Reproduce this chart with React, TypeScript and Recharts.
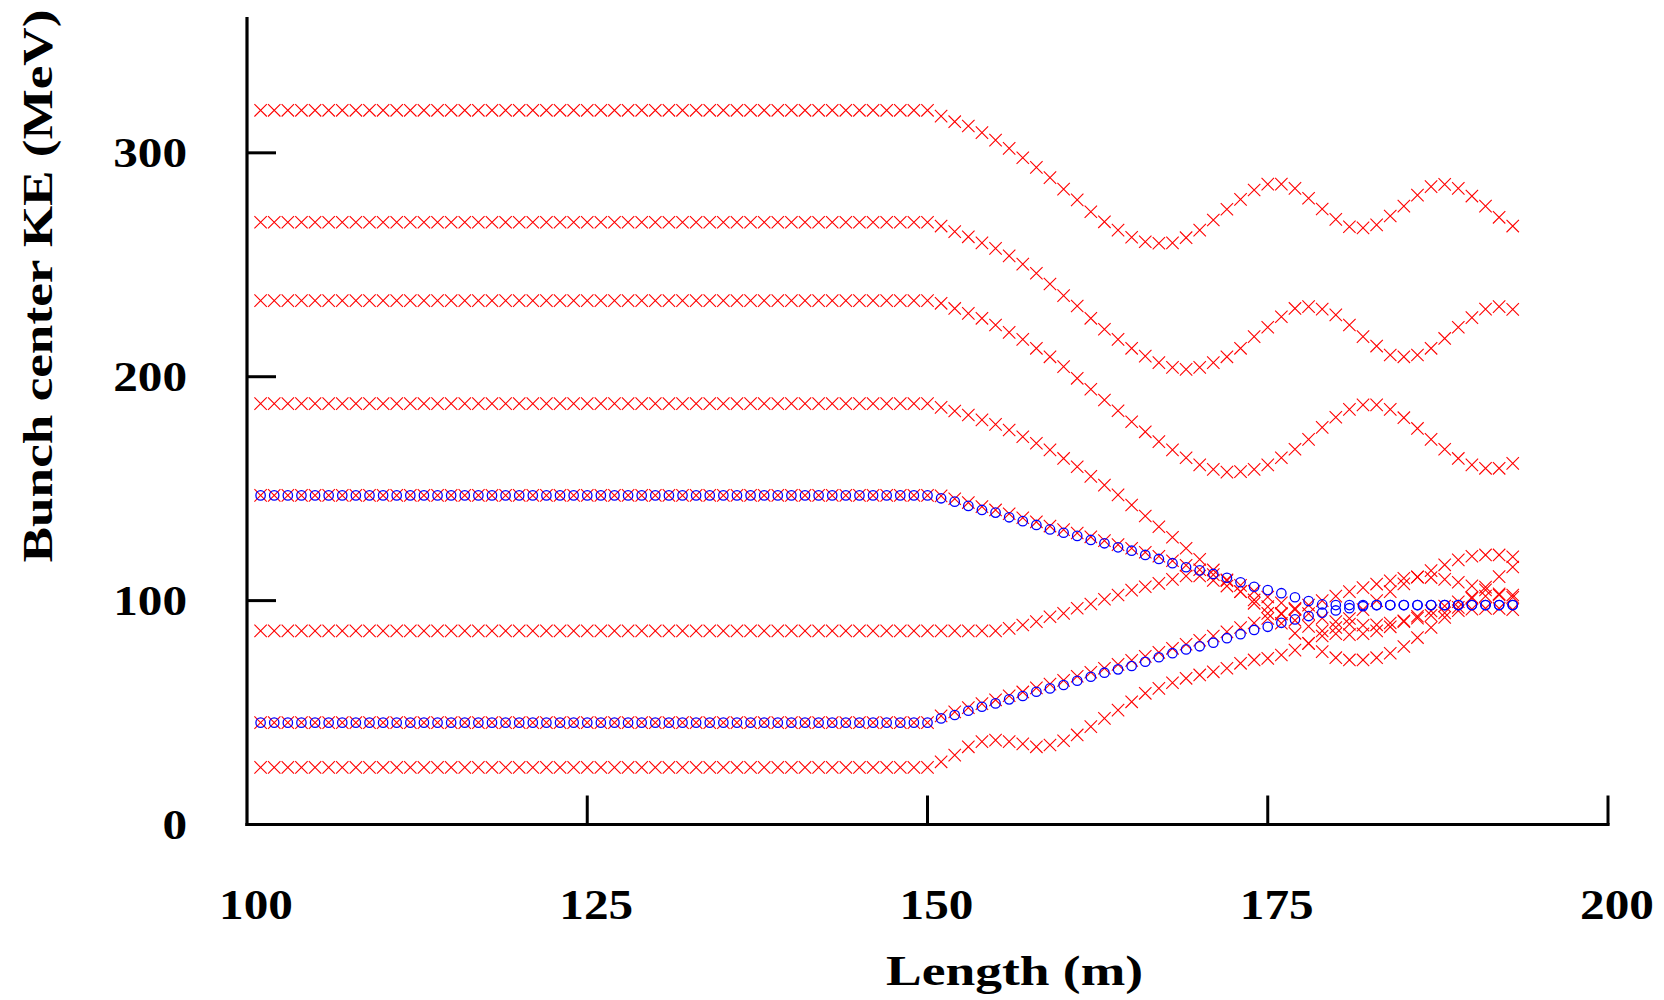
import React from 'react';
import { ScatterChart, Scatter, XAxis, YAxis } from 'recharts';

// Sample positions along the channel (m), one every metre
const lengths: number[] = Array.from({ length: 93 }, (_, i) => 101 + i);
const DRIFT_END = 150; // KE is constant up to here, tails start at 151 m

const xTicks = [100, 125, 150, 175, 200];
const yTicks = [0, 100, 200, 300];

// Bunch KE (MeV) in the drift section
const bunchFlat = [319, 269, 234, 188, 147, 86.5, 45.5, 25.5];
const refFlat = [147, 45.5];

// Bunch KE (MeV) from 151 m to 193 m
const bunch1Tail = [
  316.4, 313.9, 312, 309, 305.7, 302, 297.8, 293.5, 288.9, 283.8,
  279, 273.7, 269.2, 265.5, 262.3, 260.3, 259.6, 259.8, 262.1, 265.5,
  270, 274.8, 279.2, 283.4, 286, 286, 284.1, 279.7, 274.9, 270.3,
  267, 266.5, 267.8, 271.8, 276.2, 281.1, 284.9, 285.9, 284.1, 280.7,
  276.2, 271.2, 267.3,
];
const bunch2Tail = [
  267.3, 264.8, 262.5, 259.8, 257.3, 254, 250.3, 246.2, 241.4, 236.2,
  231.6, 226.1, 221.2, 216.7, 212.7, 209.2, 206.3, 204.2, 203.3, 204.2,
  206.3, 208.9, 212.7, 217.9, 222.1, 226.8, 230.5, 231.3, 230.2, 227.6,
  223.1, 217.9, 213.7, 209.7, 208.9, 209.7, 212.7, 217.1, 222.1, 226.4,
  230.2, 231.3, 230.1,
];
const bunch3Tail = [
  232.8, 230.5, 228.3, 226.1, 223.1, 219.8, 216.7, 212.7, 208.9, 204.5,
  199.3, 194.4, 189.6, 184.8, 179.9, 175.4, 171, 167.3, 163.8, 160.6,
  158.6, 157.4, 157.6, 158.6, 160.6, 163.8, 167.6, 172, 177.4, 181.9,
  185.4, 187.4, 187.4, 185.4, 181.7, 176.9, 172, 167.6, 163.5, 160.6,
  159.1, 159.1, 161.3,
];
const bunch4Tail = [
  186.3, 184.7, 182.9, 180.7, 178.7, 176.2, 173.2, 170.3, 167.3, 163.5,
  159.8, 155.5, 151.6, 147.2, 142.7, 137.8, 133, 128.3, 123.4, 118.4,
  113.7, 108.9, 104, 98.8, 94.3, 89.9, 85.4, 80.9, 77.2, 74.5,
  73.5, 73.5, 74.5, 76.5, 79.5, 83.5, 88, 92.5, 97, 101.5,
  106, 110.7, 115,
];
const bunch5Tail = [
  146.8, 145.5, 143.8, 142, 140.5, 138.8, 137, 135.2, 133.3, 131.7,
  130.2, 128.5, 126.8, 125, 123.4, 121.6, 119.8, 117.8, 115.8, 113.8,
  111.6, 109.3, 106.8, 104.2, 101.6, 99, 96.5, 94.2, 92.2, 90.6,
  89.5, 89, 89.2, 90, 91, 92.2, 93.4, 94.5, 95.5, 96.2,
  96.5, 96.5, 96,
];
const bunch6Tail = [
  86.5, 86.5, 86.5, 86.5, 86.5, 87.6, 89.1, 90.6, 92.8, 94.3,
  96.6, 98.5, 100.6, 102.5, 104.7, 106.2, 107.7, 109.5, 111, 111,
  109, 106.5, 104, 100.3, 97.3, 94.3, 91.2, 88.5, 86.5, 85.2,
  84.8, 85.2, 86.5, 88.3, 90.6, 93, 95.4, 97.6, 99.5, 101,
  102, 102.5, 102.5,
];
const bunch7Tail = [
  48.5, 50.3, 52.2, 54, 55.7, 57.5, 59.2, 61, 62.7, 64.4,
  66.2, 68, 69.8, 71.5, 73.3, 75.1, 76.9, 78.7, 80.5, 82.3,
  84.2, 86.1, 88, 90, 92, 94, 96, 98, 100, 102,
  104, 105.8, 107.4, 108.8, 110, 110.5, 110.3, 109.5, 108.2, 106.6,
  104.8, 103, 101.5,
];
const bunch8Tail = [
  28, 31, 34.7, 37, 37.7, 37, 36, 34.7, 35.5, 37.4,
  40, 43.7, 47.4, 51.1, 54.8, 58.6, 60.8, 63.3, 65.3, 66.8,
  68.2, 69.8, 72, 73.5, 74.2, 75.7, 77.9, 80.9, 84.2, 88,
  92, 96, 100, 104, 107.5, 110.6, 113.4, 116, 118.2, 119.8,
  120.4, 120.4, 119.6,
];

// Reference particles
const ref1Tail = [
  145.7, 144.2, 142.3, 140.5, 139.3, 137.2, 135.5, 133.8, 131.8, 130.3,
  128.9, 127.1, 125.6, 123.8, 122.3, 120.4, 118.6, 116.7, 114.9, 113.5,
  111.9, 110.2, 108.2, 106.2, 104.7, 103.3, 101.5, 99.8, 98.3, 98,
  98, 98, 98, 98, 98, 98, 98, 98, 98, 98,
  98, 98, 98,
];
const ref2Tail = [
  47.4, 48.9, 50.8, 52.6, 54.1, 55.9, 57.4, 59.3, 60.8, 62.3,
  64.2, 66, 67.8, 69.3, 70.8, 72.7, 74.7, 76.5, 78.2, 79.6,
  81.2, 83.2, 85, 86.9, 88.3, 90.1, 91.6, 93.1, 94.6, 95.6,
  96.6, 97.5, 98, 98, 98, 98, 98, 98, 98, 98,
  98, 98, 98,
];

const bunchTails = [bunch1Tail, bunch2Tail, bunch3Tail, bunch4Tail, bunch5Tail, bunch6Tail, bunch7Tail, bunch8Tail];
const refTails = [ref1Tail, ref2Tail];

const toPoints = (flat: number, tail: number[]) =>
  lengths.map((x) => ({ x, y: x <= DRIFT_END ? flat : tail[x - DRIFT_END - 1] }));

const bunches = bunchFlat.map((f, i) => toPoints(f, bunchTails[i]));
const refs = refFlat.map((f, i) => toPoints(f, refTails[i]));

const FONT = "'Liberation Serif', 'Times New Roman', serif";
const DIGIT_W = 24.6;

const Cross = (props: any) => {
  const { cx, cy } = props;
  const h = 6.2;
  return (
    <path
      d={`M${cx - h},${cy - h}L${cx + h},${cy + h}M${cx - h},${cy + h}L${cx + h},${cy - h}`}
      stroke="#ff0000"
      strokeWidth={1.1}
      fill="none"
    />
  );
};

const Ring = (props: any) => {
  const { cx, cy } = props;
  return <circle cx={cx} cy={cy} r={4.7} stroke="#0000ff" strokeWidth={1.3} fill="none" />;
};

// inward ticks drawn together with their labels
const XTick = (props: any) => {
  const { x, y, payload } = props;
  const s = String(payload.value);
  return (
    <g>
      {payload.value !== 100 && <line x1={x} y1={y} x2={x} y2={y - 29} stroke="#000" strokeWidth={3} />}
      <text
        x={x + 9}
        y={y + 94}
        textAnchor="middle"
        fontFamily={FONT}
        fontWeight={700}
        fontSize={42}
        fill="#000"
        textLength={s.length * DIGIT_W}
        lengthAdjust="spacingAndGlyphs"
      >
        {s}
      </text>
    </g>
  );
};

const YTick = (props: any) => {
  const { x, y, payload } = props;
  const s = String(payload.value);
  return (
    <g>
      {payload.value !== 0 && <line x1={x} y1={y} x2={x + 29} y2={y} stroke="#000" strokeWidth={3} />}
      <text
        x={x - 60}
        y={y + 14}
        textAnchor="end"
        fontFamily={FONT}
        fontWeight={700}
        fontSize={42}
        fill="#000"
        textLength={s.length * DIGIT_W}
        lengthAdjust="spacingAndGlyphs"
      >
        {s}
      </text>
    </g>
  );
};

const XTitle = (props: any) => {
  const vb = props.viewBox;
  return (
    <text
      x={vb.x + 767.5}
      y={vb.y + 160.5}
      textAnchor="middle"
      fontFamily={FONT}
      fontWeight={700}
      fontSize={43}
      fill="#000"
      textLength={257}
      lengthAdjust="spacingAndGlyphs"
    >
      Length (m)
    </text>
  );
};

const YTitle = (props: any) => {
  const vb = props.viewBox;
  return (
    <text
      transform={`translate(${vb.x + vb.width - 195},${vb.y + 267.5}) rotate(-90)`}
      textAnchor="middle"
      fontFamily={FONT}
      fontWeight={700}
      fontSize={43}
      fill="#000"
      textLength={553}
      lengthAdjust="spacingAndGlyphs"
    >
      Bunch center KE (MeV)
    </text>
  );
};

const axisStyle = { stroke: '#000', strokeWidth: 3.2, strokeLinecap: 'square' as const };

export default function App() {
  return (
    <div style={{ position: 'absolute', left: 0, top: 0, width: 1664, height: 1000, background: '#fff' }}>
      <ScatterChart width={1664} height={1000} margin={{ top: 18.5, right: 56, bottom: 174.5, left: 246 }}>
        <XAxis
          type="number"
          dataKey="x"
          domain={[100, 200]}
          ticks={xTicks}
          interval={0}
          height={1}
          tickSize={0}
          tickMargin={0}
          tickLine={false}
          axisLine={axisStyle}
          tick={<XTick />}
          label={{ content: XTitle }}
        />
        <YAxis
          type="number"
          dataKey="y"
          domain={[0, 360]}
          ticks={yTicks}
          interval={0}
          width={1}
          tickSize={0}
          tickMargin={0}
          tickLine={false}
          axisLine={axisStyle}
          tick={<YTick />}
          label={{ content: YTitle }}
        />
        {bunches.map((d, i) => (
          <Scatter key={`b${i}`} data={d} shape={Cross} isAnimationActive={false} />
        ))}
        {refs.map((d, i) => (
          <Scatter key={`r${i}`} data={d} shape={Ring} isAnimationActive={false} />
        ))}
      </ScatterChart>
    </div>
  );
}
